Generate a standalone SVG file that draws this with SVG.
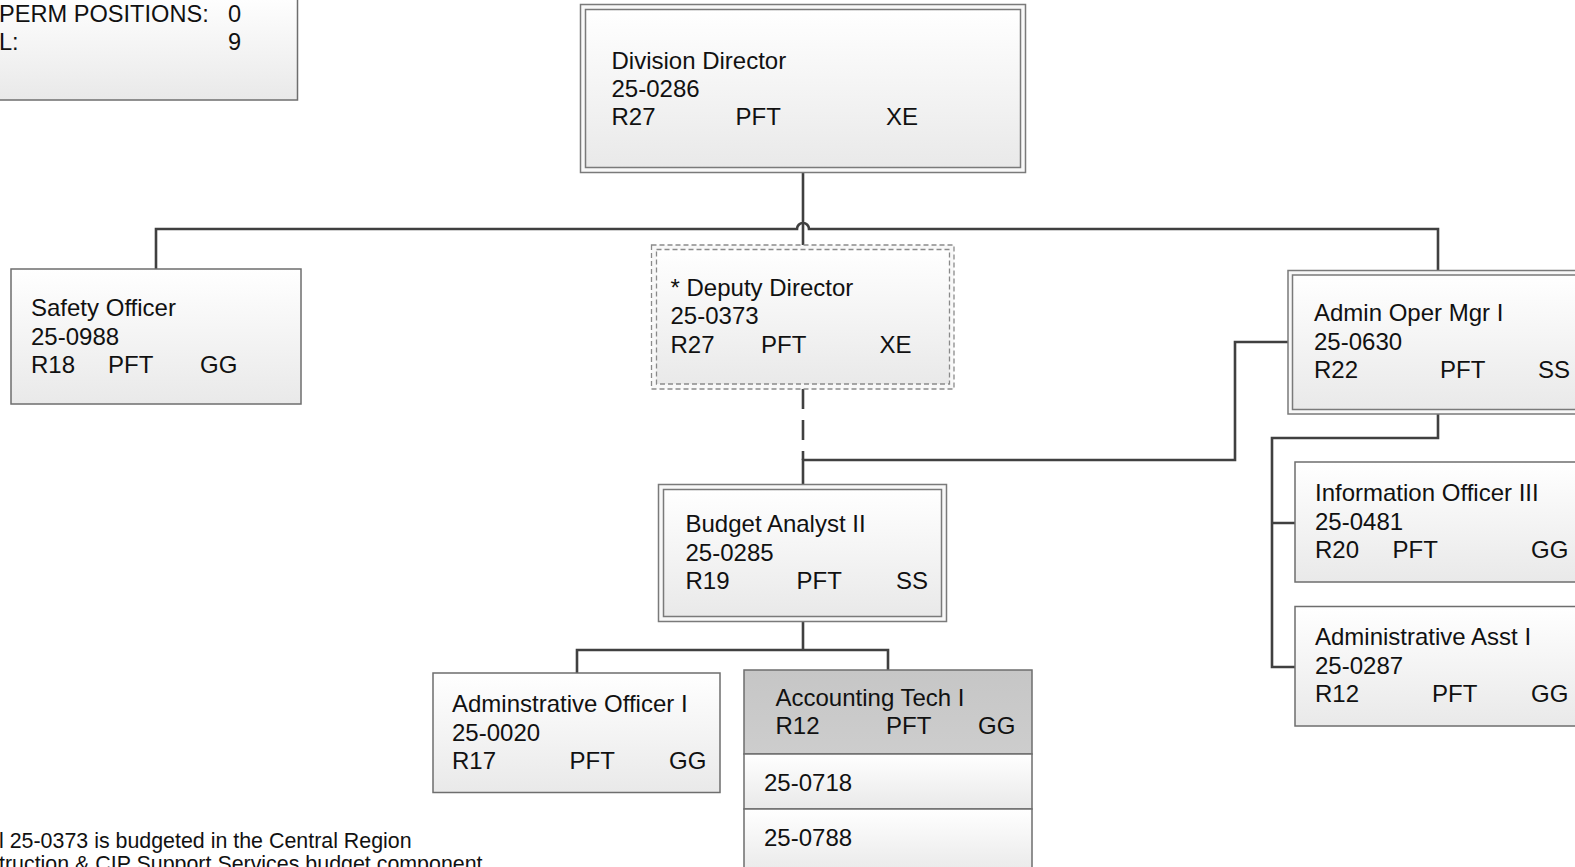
<svg xmlns="http://www.w3.org/2000/svg" width="1575" height="867" viewBox="0 0 1575 867">
<defs>
<linearGradient id="g" x1="0" y1="0" x2="0" y2="1"><stop offset="0" stop-color="#ffffff"/><stop offset="1" stop-color="#e9e9e9"/></linearGradient>
<linearGradient id="gh" x1="0" y1="0" x2="0" y2="1"><stop offset="0" stop-color="#c6c6c6"/><stop offset="1" stop-color="#cdcdcd"/></linearGradient>
</defs>
<style>
text{font-family:"Liberation Sans",Arial,sans-serif;font-size:24px;fill:#111}
.box{fill:url(#g);stroke:#6e6e6e;stroke-width:1.5}
.outer{fill:#f8f8f8;stroke:#7a7a7a;stroke-width:1.5}
.inner{fill:url(#g);stroke:#7a7a7a;stroke-width:1.5}
.dash{fill:none;stroke:#8a8a8a;stroke-width:1.3;stroke-dasharray:5 3}
.hdr{fill:url(#gh);stroke:#6e6e6e;stroke-width:1.5}
.c{fill:none;stroke:#404040;stroke-width:2.6}
.cd{fill:none;stroke:#404040;stroke-width:2.6;stroke-dasharray:20 11}
.foot{font-size:21.4px}
.sum{font-size:23.6px}
</style>
<rect width="1575" height="867" fill="#ffffff"/>

<g id="connectors">
<path class="c" d="M803,172.5 V245"/>
<path class="c" d="M156,269 V229 H797 A6,6 0 0 1 809,229 H1438 V270.5"/>
<path class="cd" d="M803,389 V460"/>
<path class="c" d="M1288,342 H1235 V460 H803 V484.5"/>
<path class="c" d="M1438,414 V438 H1272 V667 H1295 M1272,523 H1295"/>
<path class="c" d="M803,621.5 V650 M577,673 V650 H888 V670"/>
<path d="M888.5,752.5 V755.5 M888.5,807.5 V810.5" stroke="#555" stroke-width="1.5"/>
</g>

<g id="summary">
<rect class="box" x="-5" y="-5" width="302.5" height="105"/>
<text class="sum" x="-1" y="22">PERM POSITIONS:</text>
<text class="sum" x="228" y="22">0</text>
<text class="sum" x="-1" y="50">L:</text>
<text class="sum" x="228" y="50">9</text>
</g>

<g id="division-director">
<rect class="outer" x="580.5" y="4.5" width="445" height="168"/>
<rect class="inner" x="585.5" y="9.5" width="435" height="158"/>
<text x="611.5" y="68.5">Division Director</text>
<text x="611.5" y="96.5">25-0286</text>
<text x="611.5" y="124.5">R27</text><text x="735.5" y="124.5">PFT</text><text x="886" y="124.5">XE</text>
</g>

<g id="safety-officer">
<rect class="box" x="11" y="269" width="290" height="135"/>
<text x="31" y="316">Safety Officer</text>
<text x="31" y="344.5">25-0988</text>
<text x="31" y="372.5">R18</text><text x="108" y="372.5">PFT</text><text x="200" y="372.5">GG</text>
</g>

<g id="deputy-director">
<rect x="651.5" y="245" width="302.5" height="144" fill="#f8f8f8"/>
<rect x="656.5" y="249.5" width="293" height="134.5" fill="url(#g)"/>
<rect class="dash" x="651.5" y="245" width="302.5" height="144"/>
<rect class="dash" x="656.5" y="249.5" width="293" height="134.5"/>
<text x="670.5" y="296">* Deputy Director</text>
<text x="670.5" y="324">25-0373</text>
<text x="670.5" y="353">R27</text><text x="761" y="353">PFT</text><text x="879.5" y="353">XE</text>
</g>

<g id="admin-oper-mgr">
<rect class="outer" x="1288" y="270.5" width="300" height="143.5"/>
<rect class="inner" x="1292.5" y="275" width="300" height="134.5"/>
<text x="1314" y="320.5">Admin Oper Mgr I</text>
<text x="1314" y="350">25-0630</text>
<text x="1314" y="378">R22</text><text x="1440" y="378">PFT</text><text x="1538" y="378">SS</text>
</g>

<g id="information-officer">
<rect class="box" x="1295" y="462" width="300" height="120"/>
<text x="1315" y="501">Information Officer III</text>
<text x="1315" y="530">25-0481</text>
<text x="1315" y="558">R20</text><text x="1392.5" y="558">PFT</text><text x="1531" y="558">GG</text>
</g>

<g id="administrative-asst">
<rect class="box" x="1295" y="606.5" width="300" height="119.5"/>
<text x="1315" y="645">Administrative Asst I</text>
<text x="1315" y="673.5">25-0287</text>
<text x="1315" y="701.5">R12</text><text x="1432" y="701.5">PFT</text><text x="1531" y="701.5">GG</text>
</g>

<g id="budget-analyst">
<rect class="outer" x="658.5" y="484.5" width="288" height="137"/>
<rect class="inner" x="663.5" y="489.5" width="278" height="127"/>
<text x="685.5" y="531.5">Budget Analyst II</text>
<text x="685.5" y="560.5">25-0285</text>
<text x="685.5" y="589">R19</text><text x="796.5" y="589">PFT</text><text x="896" y="589">SS</text>
</g>

<g id="administrative-officer">
<rect class="box" x="433" y="673" width="287" height="119.5"/>
<text x="452" y="712">Adminstrative Officer I</text>
<text x="452" y="741">25-0020</text>
<text x="452" y="769">R17</text><text x="569.5" y="769">PFT</text><text x="669" y="769">GG</text>
</g>

<g id="accounting-tech">
<rect class="hdr" x="744" y="670" width="288" height="84"/>
<rect class="box" x="744" y="754" width="288" height="55"/>
<rect class="box" x="744" y="809" width="288" height="65"/>
<text x="775.5" y="706">Accounting Tech I</text>
<text x="775.5" y="734">R12</text><text x="886" y="734">PFT</text><text x="978" y="734">GG</text>
<text x="764" y="790.5">25-0718</text>
<text x="764" y="846">25-0788</text>
</g>

<g id="footnote">
<text class="foot" x="-1" y="847.5">l 25-0373 is budgeted in the Central Region</text>
<text class="foot" x="-1" y="871">truction &amp; CIP Support Services budget component</text>
</g>
</svg>
